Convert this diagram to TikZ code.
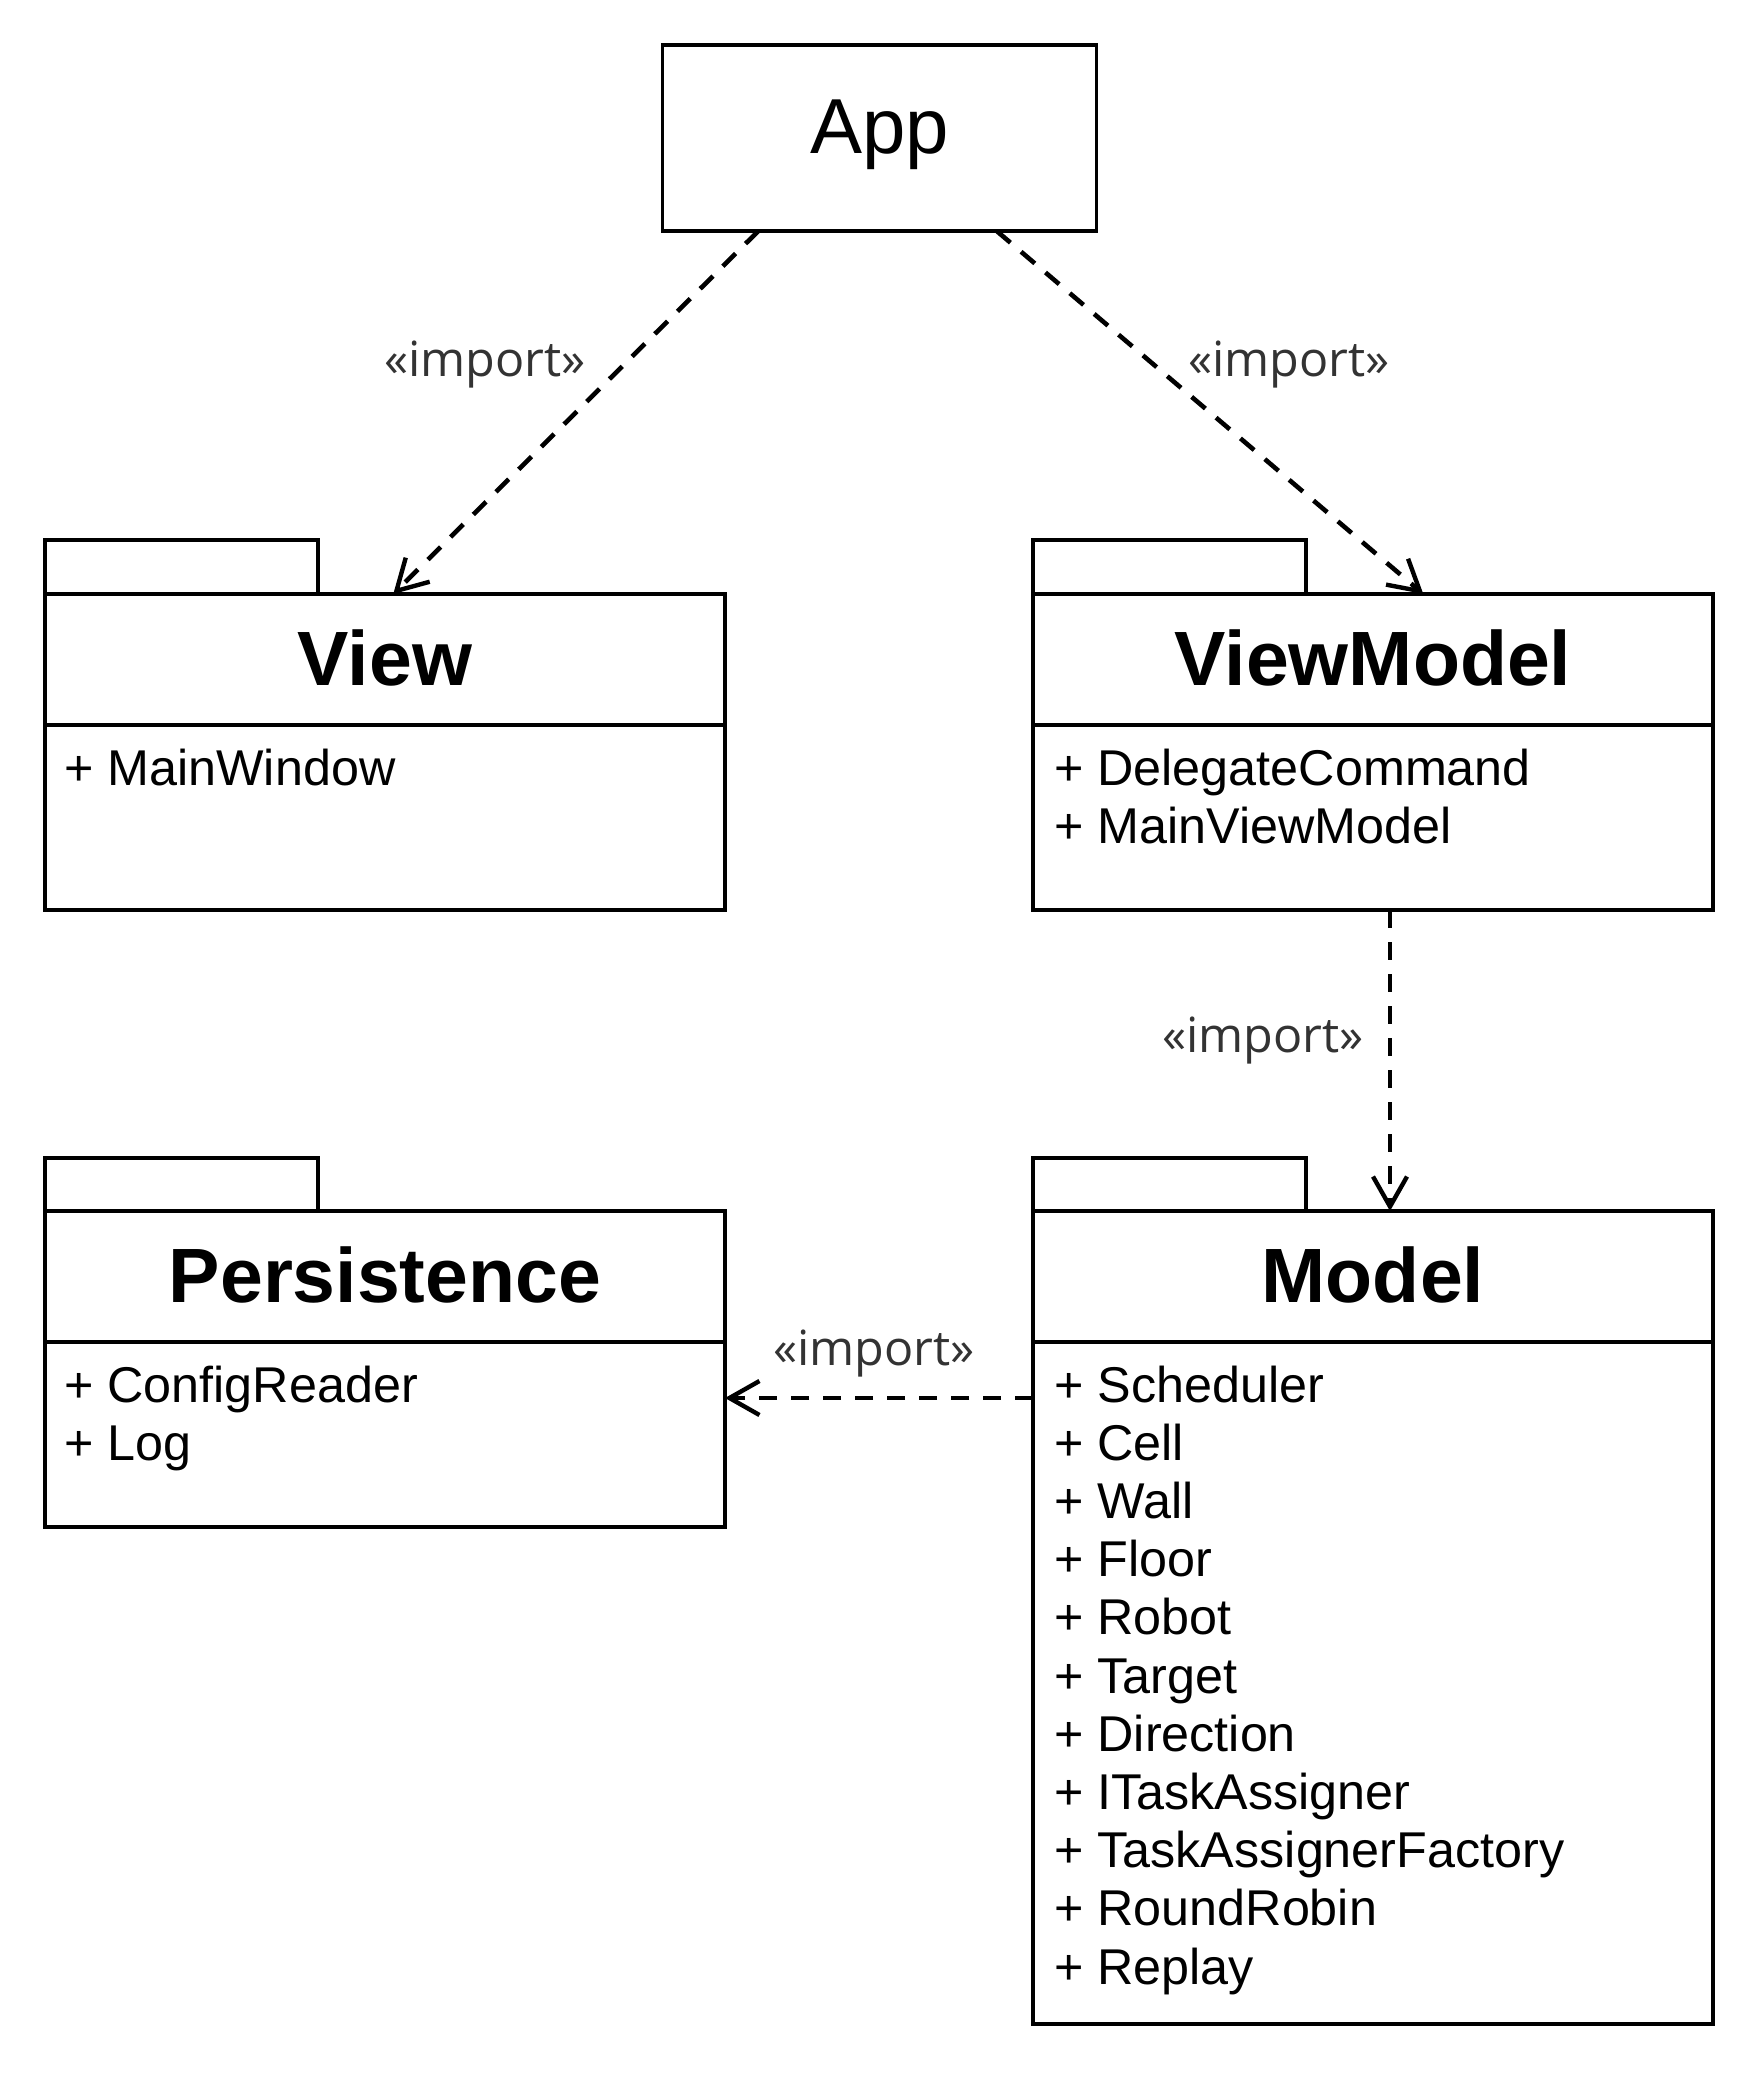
\documentclass[tikz,border=0pt]{standalone}
\usepackage{fontspec}
\setmainfont{Liberation Sans}
\newfontfamily\lblfont{Open Sans}
\usetikzlibrary{arrows.meta}
\definecolor{lblgray}{HTML}{333333}
\begin{document}
\begin{tikzpicture}[x=1pt,y=-1pt,
  box/.style={draw=black,line width=3.3pt,fill=white,inner sep=0pt,outer sep=0pt,anchor=north west},
  tabbox/.style={box,minimum width=273,minimum height=54},
  titlebox/.style={box,minimum width=680,minimum height=131,font=\fontsize{77}{82}\selectfont\bfseries,text height=51,text depth=0},
  bodybox/.style={box,minimum width=680},
  item/.style={anchor=base west,inner sep=0pt,font=\fontsize{50.3}{58}\selectfont},
  lbl/.style={anchor=base,inner sep=0pt,text=lblgray,font=\lblfont\fontsize{48.5}{52}\selectfont},
  dep/.style={draw=black,line width=4.6pt,dash pattern=on 18pt off 14pt,
    -{Straight Barb[length=30pt,width=34pt,line width=4.4pt]}}
]
\fill[white] (0,0) rectangle (1760,2076);
\useasboundingbox (0,0) rectangle (1760,2076);

% App
\node[box,minimum width=434,minimum height=186,font=\fontsize{78}{84}\selectfont,text height=52,text depth=21] (app) at (662.7,45) {App};

% View
\node[tabbox] (viewtab) at (45,540) {};
\node[titlebox] (view) at (45,594) {View};
\node[bodybox,minimum height=185] (viewbody) at (45,725) {};
\node[item] (v1) at (64,785) {+ MainWindow};

% ViewModel
\node[tabbox] (vmtab) at (1033,540) {};
\node[titlebox] (vm) at (1033,594) {ViewModel};
\node[bodybox,minimum height=185] (vmbody) at (1033,725) {};
\node[item] (vm1) at (1054,785) {+ DelegateCommand};
\node[item] (vm2) at (1054,843.2) {+ MainViewModel};

% Persistence
\node[tabbox,minimum height=53] (perstab) at (45,1158) {};
\node[titlebox] (pers) at (45,1211) {Persistence};
\node[bodybox,minimum height=185] (persbody) at (45,1342) {};
\node[item] (p1) at (64,1402) {+ ConfigReader};
\node[item] (p2) at (64,1460.2) {+ Log};

% Model
\node[tabbox,minimum height=53] (modeltab) at (1033,1158) {};
\node[titlebox] (model) at (1033,1211) {Model};
\node[bodybox,minimum height=682] (modelbody) at (1033,1342) {};
\foreach \t [count=\i] in {Scheduler,Cell,Wall,Floor,Robot,Target,Direction,ITaskAssigner,TaskAssignerFactory,RoundRobin,Replay}
  \node[item] (m\i) at ({1054},{1402+(\i-1)*58.2}) {+ \t};

% connectors
\draw[dep] ([xshift=-121.4pt]app.south) -- ([xshift=8.3pt]view.north);
\draw[dep] ([xshift=117pt]app.south) -- ([xshift=50.3pt]vm.north);
\draw[dep] ([xshift=17pt]vmbody.south) -- ([xshift=17pt]model.north);
\draw[dep] ([yshift=-56pt]modelbody.north west) -- ([yshift=-56pt]persbody.north east);

% labels
\node[lbl] (l1) at (485,376) {«import»};
\node[lbl] (l2) at (1289,376) {«import»};
\node[lbl] (l3) at (1263,1052) {«import»};
\node[lbl] (l4) at (874,1365) {«import»};
\end{tikzpicture}
\end{document}
